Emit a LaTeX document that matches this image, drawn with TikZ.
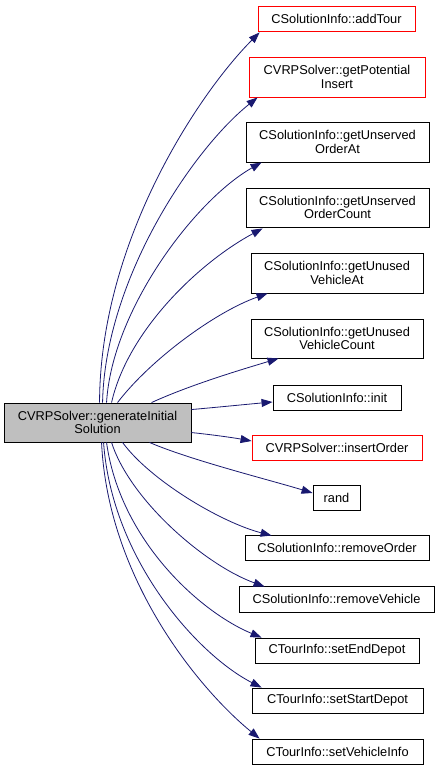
\documentclass[tikz,border=0pt]{standalone}
\usepackage{fontspec}
\setmainfont{Liberation Sans}
\usetikzlibrary{arrows.meta,calc}
\definecolor{edgeblue}{HTML}{191970}
\definecolor{mainfill}{HTML}{BFBFBF}
\begin{document}
\begin{tikzpicture}[x=1pt,y=-1pt,
  fn/.style={draw=black,line width=0.9pt,fill=white,inner sep=0pt,align=center,
    font=\fontsize{12.8}{13.5}\selectfont},
  redfn/.style={fn,draw=red},
  mainfn/.style={fn,fill=mainfill},
  edge/.style={draw=edgeblue,line width=0.8pt,-{Triangle[length=11pt,width=8pt]}}]
\useasboundingbox (0,0) rectangle (440,771);
\fill[white] (0,0) rectangle (440,771);
% nodes
\node[mainfn,minimum width=187pt,minimum height=39pt] (main) at (97.5,422.5) {CVRPSolver::generateInitial\\Solution};
\node[redfn,minimum width=157pt,minimum height=25pt] (addtour) at (336.5,18.5) {CSolutionInfo::addTour};
\node[redfn,minimum width=176pt,minimum height=40pt] (potins) at (337,77) {CVRPSolver::getPotential\\Insert};
\node[fn,minimum width=183pt,minimum height=40pt] (unsat) at (337.5,142) {CSolutionInfo::getUnserved\\OrderAt};
\node[fn,minimum width=183pt,minimum height=39pt] (unscnt) at (337.5,207.5) {CSolutionInfo::getUnserved\\OrderCount};
\node[fn,minimum width=172pt,minimum height=40pt] (unuat) at (337,273) {CSolutionInfo::getUnused\\VehicleAt};
\node[fn,minimum width=172pt,minimum height=39pt] (unucnt) at (337,338.5) {CSolutionInfo::getUnused\\VehicleCount};
\node[fn,minimum width=128pt,minimum height=25pt] (init) at (337,397.5) {CSolutionInfo::init};
\node[redfn,minimum width=170pt,minimum height=25pt] (insord) at (337,447.5) {CVRPSolver::insertOrder};
\node[fn,minimum width=47pt,minimum height=25pt] (rand) at (336.5,497.5) {rand};
\node[fn,minimum width=184pt,minimum height=25pt] (remord) at (337,547.5) {CSolutionInfo::removeOrder};
\node[fn,minimum width=195pt,minimum height=26pt] (remveh) at (336.5,599) {CSolutionInfo::removeVehicle};
\node[fn,minimum width=164pt,minimum height=25pt] (enddep) at (337,650.5) {CTourInfo::setEndDepot};
\node[fn,minimum width=171pt,minimum height=25pt] (startdep) at (337.5,700.5) {CTourInfo::setStartDepot};
\node[fn,minimum width=171pt,minimum height=25pt] (vehinfo) at (337.5,751.5) {CTourInfo::setVehicleInfo};
% edges
\draw[edge] ($(main.north west)+(96,0)$) .. controls (100,240) and (200,92) .. ($(addtour.south west)+(2,1)$);
\draw[edge] ($(main.north west)+(99,0)$) .. controls (105,280) and (192,150) .. ($(potins.south west)+(9,0)$);
\draw[edge] ($(main.north west)+(103,0)$) .. controls (112,310) and (195,200) .. ($(unsat.south west)+(16,0)$);
\draw[edge] ($(main.north west)+(108,0)$) .. controls (128,330) and (200,262) .. ($(unscnt.south west)+(17,1)$);
\draw[edge] ($(main.north west)+(114,0)$) .. controls (150,360) and (215,312) .. ($(unuat.south west)+(17,0)$);
\draw[edge] ($(main.north west)+(148,0)$) .. controls (190,385) and (240,370) .. ($(unucnt.south west)+(28,0)$);
\draw[edge] ($(main.north east)+(0,7)$) .. controls (220,407) and (250,404) .. ($(init.west)+(0,4.5)$);
\draw[edge] ($(main.north east)+(0,30)$) .. controls (215,435) and (235,438) .. ($(insord.west)+(0,-6.5)$);
\draw[edge] ($(main.south west)+(146,0)$) .. controls (190,460) and (270,480) .. ($(rand.west)+(0,-4.5)$);
\draw[edge] ($(main.south west)+(119,0)$) .. controls (150,480) and (220,522) .. ($(remord.north west)+(27,1)$);
\draw[edge] ($(main.south west)+(108,0)$) .. controls (130,500) and (205,565) .. ($(remveh.north west)+(26,1)$);
\draw[edge] ($(main.south west)+(103,0)$) .. controls (120,540) and (200,612) .. ($(enddep.north west)+(7,0)$);
\draw[edge] ($(main.south west)+(100,0)$) .. controls (112,560) and (198,655) .. ($(startdep.north west)+(10,0)$);
\draw[edge] ($(main.south west)+(98,0)$) .. controls (108,580) and (200,690) .. ($(vehinfo.north west)+(8,0)$);
\end{tikzpicture}
\end{document}
